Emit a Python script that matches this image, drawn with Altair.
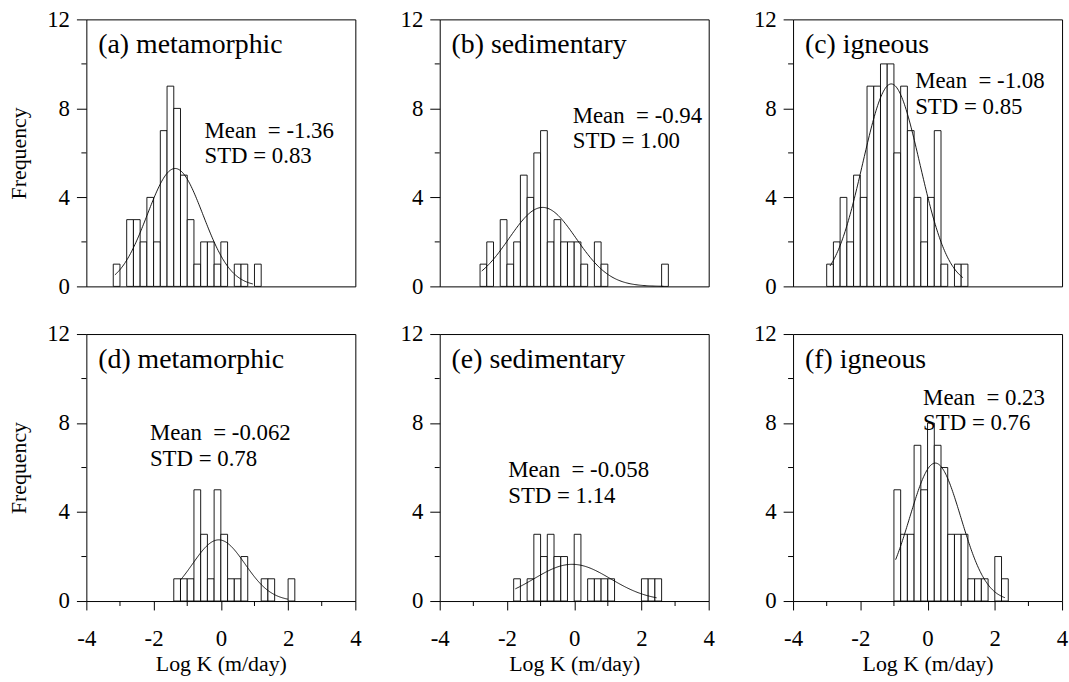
import altair as alt
import numpy as np
import pandas as pd

FONT = "Liberation Serif"

# ---------------- data ----------------
panel_titles = ["(a) metamorphic", "(b) sedimentary", "(c) igneous",
                "(d) metamorphic", "(e) sedimentary", "(f) igneous"]
bin_width = 0.2
first_bin = [-3.2, -2.8, -3.0, -1.4, -1.8, -1.0]

counts_a = [1, 0, 3, 3, 2, 4, 2, 7, 9, 8, 5, 3, 1, 2, 2, 1, 2, 0, 1, 1, 0, 1]
counts_b = [1, 2, 0, 3, 1, 2, 5, 4, 6, 7, 2, 3, 2, 2, 2, 1, 0, 2, 1,
            0, 0, 0, 0, 0, 0, 0, 0, 1]
counts_c = [1, 2, 4, 2, 5, 4, 9, 9, 10, 10, 6, 9, 7, 4, 2, 4, 7, 1, 0, 1, 1]
counts_d = [1, 1, 1, 5, 3, 1, 5, 3, 1, 1, 2, 0, 0, 1, 1, 0, 0, 1]
counts_e = [1, 0, 1, 3, 2, 3, 2, 2, 0, 3, 0, 1, 1, 1, 1, 0, 0, 0, 0, 1, 1, 1]
counts_f = [5, 3, 3, 7, 5, 8, 7, 6, 3, 3, 3, 1, 1, 1, 0, 2, 1]
all_counts = [counts_a, counts_b, counts_c, counts_d, counts_e, counts_f]

means = [-1.36, -0.94, -1.08, -0.062, -0.058, 0.23]
stds = [0.83, 1.00, 0.85, 0.78, 1.14, 0.76]
mean_labels = ["-1.36", "-0.94", "-1.08", "-0.062", "-0.058", "0.23"]
std_labels = ["0.83", "1.00", "0.85", "0.78", "1.14", "0.76"]
curve_peak = [5.3, 3.55, 9.1, 2.75, 1.65, 6.2]
curve_from = [-3.15, -2.75, -2.9, -1.2, -1.75, -0.95]
curve_to = [0.95, 2.65, 1.05, 2.0, 2.45, 2.3]

x_major = [-4, -2, 0, 2, 4]
x_minor = [-3, -1, 1, 3]
y_major = [0, 4, 8, 12]
y_minor = [2, 6, 10]

# ---------------- layout (pixels) ----------------
W, H = 271, 269
stat_x = [119, 134, 123, 64, 69, 131]
stat_y = [112, 97, 62, 100, 137, 64]
line_gap = 26

xs = alt.Scale(domain=[-4, 4], nice=False, zero=False)
ys = alt.Scale(domain=[0, 12], nice=False, zero=True)


def x_enc(field, row):
    if row == 1:
        return alt.X(field, type="quantitative", scale=xs, title="Log K (m/day)",
                     axis=alt.Axis(values=x_major, tickSize=9, labelPadding=18,
                                   labelFlush=False,
                                   labelExpr="toString(datum.value)",
                                   labelFontSize=23, titleFontSize=22, titlePadding=3,
                                   labelAngle=0, domain=False, grid=False,
                                   labelFont=FONT, titleFont=FONT,
                                   titleFontWeight="normal", tickColor="black",
                                   labelColor="black", titleColor="black"))
    return alt.X(field, type="quantitative", scale=xs, axis=None)


def y_enc(field, col):
    kw = {}
    if col == 0:
        kw["title"] = "Frequency"
    else:
        kw["title"] = None
    return alt.Y(field, type="quantitative", scale=ys,
                 axis=alt.Axis(values=y_major, tickSize=10, labelPadding=7,
                               labelFontSize=23, titleFontSize=22, titlePadding=16,
                               domain=False, grid=False, labelFont=FONT,
                               titleFont=FONT, titleFontWeight="normal",
                               tickColor="black", labelColor="black",
                               titleColor="black"), **kw)


def panel(i):
    row, col = divmod(i, 3)
    counts = all_counts[i]
    x0 = np.round(first_bin[i] + bin_width * np.arange(len(counts)), 2)
    bars_df = pd.DataFrame({"x0": x0, "x1": np.round(x0 + bin_width, 2),
                            "count": counts, "base": 0})
    bars_df = bars_df[bars_df["count"] > 0]

    gx = np.linspace(curve_from[i], curve_to[i], 160)
    gy = curve_peak[i] * np.exp(-0.5 * ((gx - means[i]) / stds[i]) ** 2)
    curve_df = pd.DataFrame({"x0": gx, "count": gy})

    bars = alt.Chart(bars_df).mark_rect(
        fill="white", stroke="black", strokeWidth=0.9
    ).encode(x=x_enc("x0", row), x2="x1:Q", y=y_enc("count", col), y2="base:Q")

    curve = alt.Chart(curve_df).mark_line(color="black", strokeWidth=0.9).encode(
        x=x_enc("x0", row), y=y_enc("count", col))

    layers = [bars, curve]

    ymin = alt.Chart(pd.DataFrame({"count": y_minor})).mark_rule(
        color="black", strokeWidth=1).encode(
        y=y_enc("count", col), x=alt.value(-5), x2=alt.value(0))
    layers.append(ymin)

    if row == 1:
        xmin = alt.Chart(pd.DataFrame({"x0": x_minor})).mark_rule(
            color="black", strokeWidth=1).encode(
            x=x_enc("x0", row), y=alt.value(H), y2=alt.value(H + 5))
        layers.append(xmin)

    title = alt.Chart(pd.DataFrame({"t": [panel_titles[i]]})).mark_text(
        align="left", baseline="alphabetic", font=FONT, fontSize=28, color="black"
    ).encode(x=alt.value(12), y=alt.value(34), text="t:N")

    stats = alt.Chart(pd.DataFrame({
        "t": ["Mean\u00a0\u00a0= " + mean_labels[i], "STD = " + std_labels[i]],
        "yy": [stat_y[i], stat_y[i] + line_gap]})).mark_text(
        align="left", baseline="middle", font=FONT, fontSize=23, color="black"
    ).encode(x=alt.value(stat_x[i]), y=alt.Y("yy:Q", scale=None), text="t:N")

    layers += [title, stats]
    return alt.layer(*layers).properties(width=W, height=H)


top = alt.hconcat(panel(0), panel(1), panel(2), spacing=43)
bottom = alt.hconcat(panel(3), panel(4), panel(5), spacing=37)

chart = alt.vconcat(top, bottom, spacing=23).properties(
    padding={"left": 7, "top": 5, "right": 0, "bottom": 0}
).configure(font=FONT).configure_view(
    stroke="black", strokeWidth=1
).configure_axis(grid=False)

chart.save("out.html", embed_options={"renderer": "svg", "actions": False})
